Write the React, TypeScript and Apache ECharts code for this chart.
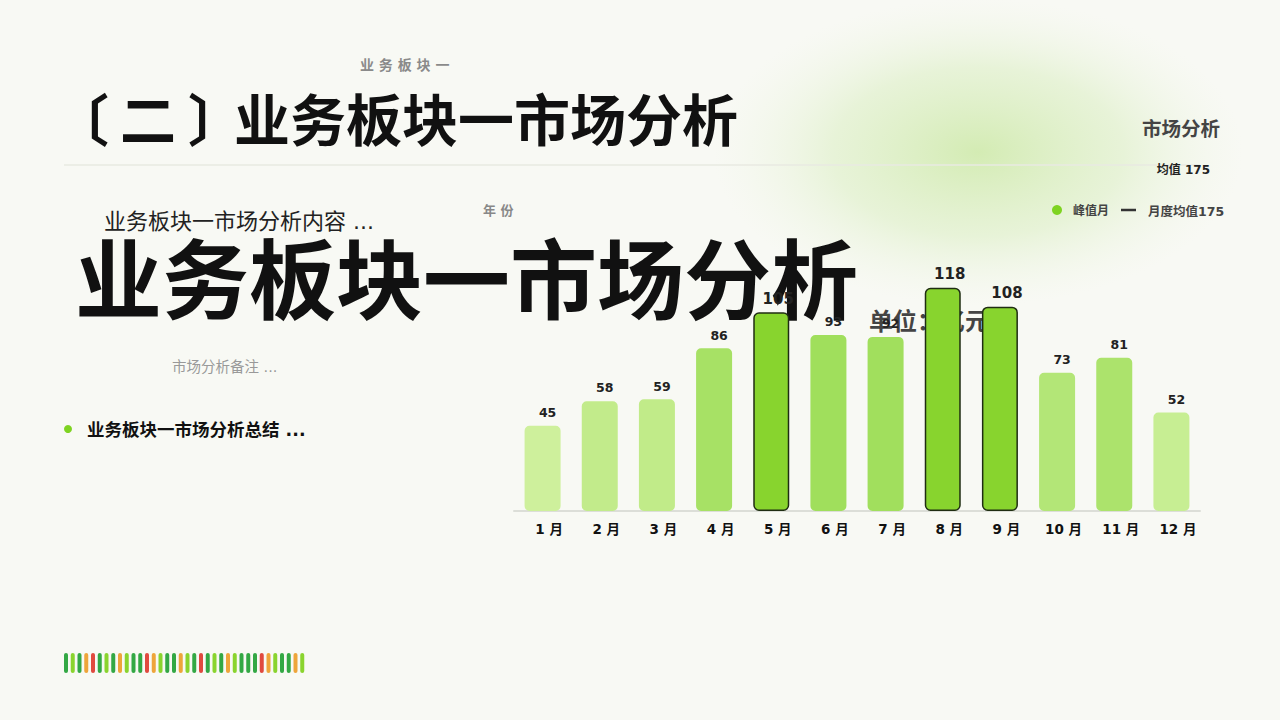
import React, { useEffect, useRef } from "react";
import * as echarts from "echarts";

const months = ["1月", "2月", "3月", "4月", "5月", "6月", "7月", "8月", "9月", "10月", "11月", "12月"];
const values = [45, 58, 59, 86, 105, 93, 92, 118, 108, 73, 81, 52];
const peakThreshold = 100;
const averageValue = 175;
const stripColors = [
  "dg", "lg", "dg", "or", "rd", "dg", "lg", "dg", "or", "lg", "dg", "dg",
  "rd", "or", "lg", "dg", "dg", "or", "lg", "dg", "rd", "dg", "lg", "dg",
  "or", "lg", "dg", "dg", "dg", "rd", "or", "lg", "dg", "dg", "or", "lg",
];

const CJK = "Noto Sans CJK SC";
const MIX = "DejaVu Sans, Noto Sans CJK SC";

const palette: Record<string, string> = {
  dg: "#33a844",
  lg: "#8ad42e",
  or: "#eea53a",
  rd: "#e04a3f",
};

function barColor(v: number): string {
  const nonPeak = values.filter((x) => x <= peakThreshold);
  const lo = Math.min(...nonPeak);
  const hi = Math.max(...nonPeak);
  const t = (v - lo) / (hi - lo);
  const a = [206, 240, 156];
  const b = [160, 223, 92];
  const c = a.map((x, i) => Math.round(x + (b[i] - x) * t));
  return `rgb(${c[0]},${c[1]},${c[2]})`;
}

export default function App() {
  const ref = useRef<HTMLDivElement>(null);
  useEffect(() => {
    if (!ref.current) return;
    const chart = echarts.init(ref.current, null, { renderer: "svg" });

    const strip = stripColors.map((k, i) => ({
      type: "rect",
      z: 1,
      shape: { x: 64 + i * 6.75, y: 653, width: 4, height: 20, r: 2 },
      style: { fill: palette[k] },
    }));

    const text = (t: string, x: number, y: number, size: number, fill: string, weight: any, family = MIX, align = "left", z = 10) => ({
      type: "text",
      z,
      x,
      y,
      style: {
        text: t,
        fill,
        fontSize: size,
        fontWeight: weight,
        fontFamily: family,
        align,
        verticalAlign: "middle",
      },
    });

    const option: any = {
      animation: false,
      backgroundColor: "#f8f9f4",
      grid: { left: 514, right: 80, top: 265, bottom: 209 },
      xAxis: {
        type: "category",
        data: months,
        axisTick: { show: false },
        axisLine: { lineStyle: { color: "#dcded8", width: 2 } },
        axisLabel: {
          margin: 11,
          fontSize: 13.5,
          fontWeight: "bold",
          color: "#111",
          fontFamily: MIX,
          padding: [0, 0, 0, 13],
          formatter: (v: string) => v.replace("月", " 月"),
        },
      },
      yAxis: { type: "value", min: 0, max: 130, show: false },
      series: [
        {
          type: "bar",
          z: 2,
          barWidth: 36,
          data: values.map((v) => {
            const peak = v > peakThreshold;
            return {
              value: v,
              itemStyle: peak
                ? { color: "#88d42e", borderColor: "#1f2d12", borderWidth: 1.5, borderRadius: 5 }
                : { color: barColor(v), borderRadius: 5 },
              label: peak ? { fontSize: 15, distance: 6, offset: [7, 0] } : {},
            };
          }),
          label: {
            show: true,
            position: "top",
            distance: 7,
            offset: [5, 0],
            fontSize: 12.5,
            fontWeight: "bold",
            color: "#222",
            fontFamily: MIX,
          },
        },
      ],
      graphic: {
        elements: [
          {
            type: "circle",
            z: 0,
            x: 978,
            y: 152,
            scaleY: 0.58,
            shape: { cx: 0, cy: 0, r: 265 },
            style: {
              fill: {
                type: "radial",
                x: 0.5,
                y: 0.5,
                r: 0.5,
                colorStops: [
                  { offset: 0, color: "rgba(205,233,168,0.85)" },
                  { offset: 0.55, color: "rgba(215,237,188,0.5)" },
                  { offset: 1, color: "rgba(235,244,222,0)" },
                ],
              },
            },
          },
          {
            type: "line",
            z: 1,
            shape: { x1: 64, y1: 165, x2: 1200, y2: 165 },
            style: { stroke: "#e8eae2", lineWidth: 1.5 },
          },
          text("业 务 板 块 一", 360, 65, 14, "#8a8a8a", "bold"),
          {
            type: "group",
            z: 10,
            children: [
              text("〔", 53, 116, 56, "#111", "bold", CJK),
              text("二", 120, 116, 56, "#111", "bold", CJK),
              text("〕", 188, 116, 56, "#111", "bold", CJK),
              text("业务板块一市场分析", 234, 116, 56, "#111", "bold", CJK),
            ],
          },
          text("业务板块一市场分析内容 ...", 104, 221, 22, "#222", "normal"),
          text("业务板块一市场分析", 75, 275, 87, "#111", "bold", CJK, "left", 1),
          text("市场分析备注 ...", 172, 367, 14.5, "#999", "normal"),
          { type: "circle", z: 10, shape: { cx: 68, cy: 429, r: 4 }, style: { fill: "#7ed321" } },
          text("业务板块一市场分析总结 ...", 87, 430, 17.5, "#111", "bold"),
          text("年 份", 483, 210, 13, "#888", "bold"),
          text("市场分析", 1220, 129, 19.5, "#444", "bold", MIX, "right"),
          text("均值 " + averageValue, 1210, 170, 12, "#222", "bold", MIX, "right"),
          { type: "circle", z: 10, shape: { cx: 1057, cy: 210, r: 5 }, style: { fill: "#7ed321" } },
          text("峰值月", 1073, 211, 12, "#444", "bold"),
          { type: "line", z: 10, shape: { x1: 1121, y1: 210, x2: 1136, y2: 210 }, style: { stroke: "#333", lineWidth: 2.5 } },
          text("月度均值" + averageValue, 1148, 211, 12.5, "#444", "bold"),
          text("单位：亿元", 869, 322, 24, "#444", "bold", MIX, "left", 1),
          ...strip,
        ],
      },
    };
    chart.setOption(option);
    return () => chart.dispose();
  }, []);
  return <div ref={ref} style={{ position: "absolute", left: 0, top: 0, width: 1280, height: 720 }} />;
}
